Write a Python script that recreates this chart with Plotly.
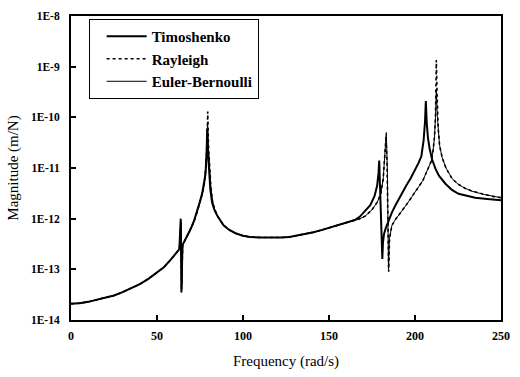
import plotly.graph_objects as go

# ---- data ----
timo_x = [0, 5, 10, 15, 20, 25, 30, 35, 40, 45, 50, 54, 58, 61, 63, 63.8, 64.2, 64.8, 66, 68, 69.7, 71.5, 73.5,
          75, 76.3, 77.3, 78.2, 78.8, 79.2,
          79.6, 80.2, 81, 82, 83.3, 85, 87, 88.7, 92, 96, 100, 104, 110, 117, 122, 127, 131, 136, 141, 146, 150,
          155, 160, 165, 168, 171, 174, 176.5, 178, 178.8, 179.2, 179.6, 180.2, 180.7, 181, 181.4, 182, 183,
          184, 186.6, 188.5, 190.4, 193, 195.1, 197.5, 199.9, 202, 203.7, 205, 205.8, 206.3, 206.8, 207.5,
          208.5, 210, 212, 214, 217.7, 221.5, 225.3, 230, 235, 242, 250]
timo_y = [2.1e-14, 2.15e-14, 2.28e-14, 2.5e-14, 2.7e-14, 3.05e-14, 3.55e-14, 4.2e-14, 5.1e-14, 6.5e-14, 8.6e-14,
          1.1e-13, 1.55e-13, 2.05e-13, 2.5e-13, 1.0e-12, 3.5e-14, 3.0e-13, 3.6e-13, 4.8e-13, 6.4e-13, 9.0e-13,
          1.45e-12, 2.2e-12, 3.2e-12, 4.8e-12, 7.6e-12, 1.8e-11, 6.0e-11,
          2.2e-11, 8.0e-12, 3.8e-12, 2.1e-12, 1.5e-12, 1.15e-12, 8.8e-13, 7.4e-13, 6.0e-13, 5.1e-13, 4.6e-13,
          4.35e-13, 4.25e-13, 4.2e-13, 4.25e-13, 4.35e-13, 4.6e-13, 4.95e-13, 5.4e-13, 6.0e-13, 6.6e-13,
          7.4e-13, 8.3e-13, 9.4e-13, 1.1e-12, 1.4e-12, 1.85e-12, 2.8e-12, 4.5e-12, 8.0e-12, 1.4e-11, 5.0e-12,
          1.2e-12, 4.0e-13, 1.6e-13, 3.5e-13, 5.0e-13, 6.5e-13,
          8.0e-13, 1.33e-12, 1.8e-12, 2.4e-12, 3.4e-12, 4.6e-12, 6.3e-12, 8.9e-12, 1.25e-11, 1.7e-11, 3.5e-11,
          8.0e-11, 2.1e-10, 8.0e-11, 4.0e-11,
          2.4e-11, 1.45e-11, 9.5e-12, 7.0e-12, 4.9e-12, 3.7e-12, 3.1e-12, 2.8e-12, 2.6e-12, 2.45e-12, 2.3e-12]

ray_x = [0, 5, 10, 15, 20, 25, 30, 35, 40, 45, 50, 54, 58, 61, 63, 63.9, 64.3, 64.9, 66, 68, 69.7, 71.5, 73.5,
         75, 76.5, 77.6, 78.5, 79.1, 79.5,
         79.9, 80.5, 81.3, 82.3, 83.5, 85, 87, 88.7, 92, 96, 100, 104, 110, 117, 122, 127, 131, 136, 141, 146, 150,
         155, 160, 165, 168, 171, 175, 178, 180, 181.5, 182.5, 183.2, 183.8, 184.3, 184.7, 185.2, 186.6,
         188.5, 190.4, 193, 195.1, 197.5, 199.9, 202, 204.6, 206.5, 208, 209.4, 210.5, 211.3, 211.9, 212.4,
         212.9, 213.5, 214.3, 215.8, 218, 221.5, 225, 229, 233, 240, 245, 250]
ray_y = [2.1e-14, 2.15e-14, 2.28e-14, 2.5e-14, 2.7e-14, 3.05e-14, 3.55e-14, 4.2e-14, 5.1e-14, 6.5e-14, 8.6e-14,
         1.1e-13, 1.55e-13, 2.05e-13, 2.5e-13, 9.0e-13, 4.0e-14, 3.0e-13, 3.6e-13, 4.7e-13, 6.2e-13, 8.7e-13,
         1.4e-12, 2.1e-12, 3.2e-12, 5.0e-12, 1.2e-11, 3.5e-11, 1.3e-10,
         3.0e-11, 1.0e-11, 4.2e-12, 2.2e-12, 1.55e-12, 1.15e-12, 8.8e-13, 7.4e-13, 6.0e-13, 5.1e-13, 4.6e-13,
         4.35e-13, 4.25e-13, 4.2e-13, 4.25e-13, 4.35e-13, 4.6e-13, 4.95e-13, 5.4e-13, 6.0e-13, 6.6e-13,
         7.4e-13, 8.3e-13, 9.2e-13, 1.0e-12, 1.12e-12, 1.5e-12, 2.1e-12, 3.0e-12, 6.0e-12, 1.6e-11, 4.2e-11,
         1.0e-11, 1.2e-12, 9.0e-14, 4.0e-13, 7.4e-13,
         9.5e-13, 1.15e-12, 1.5e-12, 1.9e-12, 2.5e-12, 3.2e-12, 4.2e-12, 5.7e-12, 7.8e-12, 1.0e-11, 1.35e-11,
         2.2e-11, 4.0e-11, 1.0e-10, 1.35e-9,
         2.5e-10, 6.0e-11, 2.8e-11, 1.6e-11, 1.0e-11, 6.2e-12, 4.8e-12, 4.0e-12, 3.5e-12, 3.0e-12, 2.75e-12, 2.6e-12]

eb_x = [0, 5, 10, 15, 20, 25, 30, 35, 40, 45, 50, 54, 58, 61, 63, 64.0, 64.4, 65.0, 66, 68, 69.7, 71.5, 73.5,
        75, 76.5, 77.6, 78.5, 79.1, 79.4,
        79.8, 80.4, 81.3, 82.3, 83.5, 85, 87, 88.7, 92, 96, 100, 104, 110, 117, 122, 127, 131, 136, 141, 146, 150,
        155, 160, 165, 168, 171, 175, 178, 180, 181.5, 182.5, 183.3, 183.9, 184.3, 184.6, 185.1, 186.6,
        188.5, 190.4, 193, 195.1, 197.5, 199.9, 202, 204.6, 206.5, 208, 209.4, 210.5, 211.3, 211.9, 212.4,
        213.0, 213.6, 214.3, 215.8, 218, 221.5, 225, 229, 233, 240, 245, 250]
eb_y = [2.1e-14, 2.15e-14, 2.28e-14, 2.5e-14, 2.7e-14, 3.05e-14, 3.55e-14, 4.2e-14, 5.1e-14, 6.5e-14, 8.6e-14,
        1.1e-13, 1.55e-13, 2.05e-13, 2.5e-13, 8.0e-13, 5.0e-14, 3.0e-13, 3.6e-13, 4.7e-13, 6.2e-13, 8.7e-13,
        1.4e-12, 2.1e-12, 3.2e-12, 5.0e-12, 1.2e-11, 3.5e-11, 8.0e-11,
        2.8e-11, 1.0e-11, 4.2e-12, 2.2e-12, 1.55e-12, 1.15e-12, 8.8e-13, 7.4e-13, 6.0e-13, 5.1e-13, 4.6e-13,
        4.35e-13, 4.25e-13, 4.2e-13, 4.25e-13, 4.35e-13, 4.6e-13, 4.95e-13, 5.4e-13, 6.0e-13, 6.6e-13,
        7.4e-13, 8.3e-13, 9.2e-13, 1.0e-12, 1.12e-12, 1.5e-12, 2.1e-12, 3.0e-12, 6.0e-12, 1.6e-11, 5.0e-11,
        1.0e-11, 1.5e-12, 1.0e-13, 4.0e-13, 7.4e-13,
        9.5e-13, 1.15e-12, 1.5e-12, 1.9e-12, 2.5e-12, 3.2e-12, 4.2e-12, 5.7e-12, 7.8e-12, 1.0e-11, 1.35e-11,
        2.2e-11, 4.0e-11, 1.0e-10, 3.6e-10,
        1.0e-10, 4.5e-11, 2.8e-11, 1.6e-11, 1.0e-11, 6.2e-12, 4.8e-12, 4.0e-12, 3.5e-12, 3.0e-12, 2.75e-12, 2.6e-12]

series_names = ["Timoshenko", "Rayleigh", "Euler-Bernoulli"]

x_ticks = [0, 50, 100, 150, 200, 250]
y_tickvals = [1e-14, 1e-13, 1e-12, 1e-11, 1e-10, 1e-9, 1e-8]
y_ticktext = ["1E-14", "1E-13", "1E-12", "1E-11", "1E-10", "1E-9", "1E-8"]

serif = "Liberation Serif"

fig = go.Figure()
fig.add_trace(go.Scatter(x=timo_x, y=timo_y, mode="lines", name=series_names[0],
                         line=dict(color="black", width=2)))
fig.add_trace(go.Scatter(x=ray_x, y=ray_y, mode="lines", name=series_names[1],
                         line=dict(color="black", width=1.6, dash="dot")))
fig.add_trace(go.Scatter(x=eb_x, y=eb_y, mode="lines", name=series_names[2],
                         line=dict(color="black", width=1)))

fig.update_layout(
    width=520, height=377,
    margin=dict(l=71, r=10, t=12, b=48),
    paper_bgcolor="white", plot_bgcolor="white",
    showlegend=True,
    legend=dict(x=0.041, y=0.99, xanchor="left", yanchor="top",
                bgcolor="white", bordercolor="black", borderwidth=1,
                font=dict(family=serif, size=15, color="black", weight="bold"),
                tracegroupgap=0, itemwidth=40, indentation=12),
    font=dict(family=serif, color="black"),
)

fig.update_xaxes(range=[0, 250], tickvals=x_ticks, ticks="inside", ticklen=5, tickwidth=1.5,
                 tickcolor="black", showline=True, linecolor="black", linewidth=2, mirror=True,
                 showgrid=False, zeroline=False,
                 tickfont=dict(family=serif, size=12, color="black", weight="bold"),
                 ticklabelstandoff=4,
                 title=dict(text="Frequency (rad/s)", font=dict(family=serif, size=15, color="black"),
                            standoff=13))
fig.update_yaxes(type="log", range=[-14, -8], tickvals=y_tickvals, ticktext=y_ticktext,
                 ticks="inside", ticklen=5, tickwidth=1.5, tickcolor="black",
                 showline=True, linecolor="black", linewidth=2, mirror=True,
                 showgrid=False, zeroline=False,
                 tickfont=dict(family=serif, size=11.5, color="black", weight="bold"),
                 ticklabelstandoff=7,
                 title=dict(text="Magnitude (m/N)", font=dict(family=serif, size=15, color="black"),
                            standoff=9))

fig.write_html("out.html")
